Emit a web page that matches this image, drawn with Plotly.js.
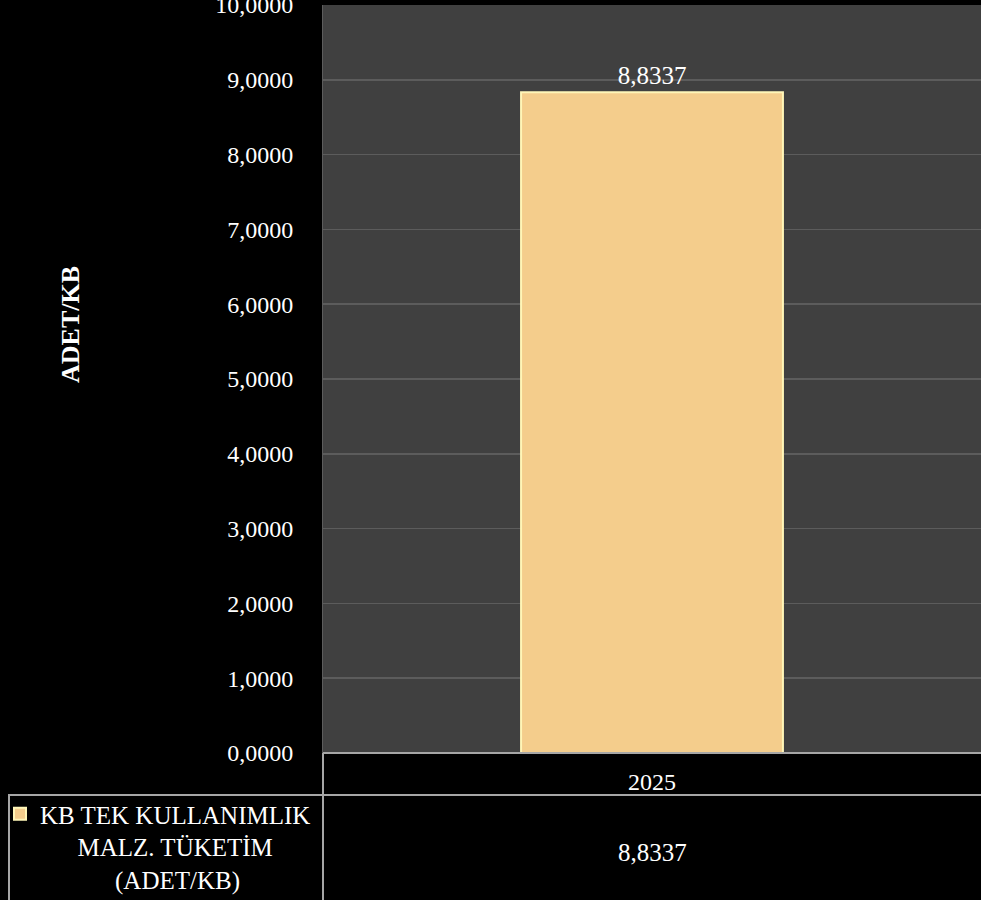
<!DOCTYPE html>
<html>
<head>
<meta charset="utf-8">
<script src="https://cdn.plot.ly/plotly-3.0.1.min.js"></script>
<style>html,body{margin:0;padding:0;background:#000;}#chart{width:981px;height:900px;}</style>
</head>
<body>
<div id="chart"></div>
<script>
const categories = ['2025'];
const values = [8.8337];
const seriesName = 'KB TEK KULLANIMLIK<br>\u00a0\u00a0\u00a0\u00a0\u00a0\u00a0MALZ. TÜKETİM<br>\u00a0\u00a0\u00a0\u00a0\u00a0\u00a0\u00a0\u00a0\u00a0\u00a0\u00a0\u00a0(ADET/KB)';
const yTitle = 'ADET/KB';
const tickVals = [0,1,2,3,4,5,6,7,8,9,10];

const FONT = 'Liberation Serif, DejaVu Serif, serif';
const fmt = v => v.toFixed(4).replace('.', ',');

const trace = {
  type: 'bar',
  x: categories,
  y: values,
  name: seriesName,
  width: 0.398,
  marker: {color: '#f4cd8c', line: {color: '#fff6b8', width: 2}},
  text: values.map(fmt),
  textposition: 'outside',
  cliponaxis: false,
  textfont: {family: FONT, size: 25, color: '#ffffff'},
  hoverinfo: 'none'
};

const lineCol = '#a6a6a6';
const shapes = [
  {type:'line', xref:'paper', yref:'paper', x0:0, x1:1, y0:0, y1:0, line:{color:lineCol, width:2}},
  {type:'line', xref:'paper', yref:'paper', x0:(8-323)/658, x1:1, y0:(753-795)/748, y1:(753-795)/748, line:{color:lineCol, width:2}},
  {type:'line', xref:'paper', yref:'paper', x0:0, x1:0, y0:0, y1:(753-900)/748, line:{color:lineCol, width:2}},
  {type:'line', xref:'paper', yref:'paper', x0:(9-323)/658, x1:(9-323)/658, y0:(753-795)/748, y1:(753-900)/748, line:{color:lineCol, width:2}}
];

const annotations = [
  {text: yTitle, textangle: -90, xref:'paper', yref:'paper', x:(70-323)/658, y:(753-325)/748,
   showarrow:false, font:{family:FONT, size:26, color:'#ffffff', weight:'bold'}, xanchor:'center', yanchor:'middle'},
  {text: fmt(values[0]), xref:'x', yref:'paper', x: 0, y:(753-852)/748,
   showarrow:false, font:{family:FONT, size:25, color:'#ffffff'}, xanchor:'center', yanchor:'middle'}
];

const layout = {
  width: 981, height: 900,
  paper_bgcolor: '#000000',
  plot_bgcolor: '#404040',
  margin: {l:323, r:0, t:5, b:147, pad:0, autoexpand:false},
  separators: ',.',
  font: {family: FONT, color: '#ffffff'},
  showlegend: true,
  legend: {x:(0-323)/658, y:(753-791)/748, xanchor:'left', yanchor:'top', valign:'top',
           bgcolor:'rgba(0,0,0,0)', font:{family:FONT, size:25, color:'#ffffff'},
           itemwidth:30, tracegroupgap:0},
  xaxis: {type:'category', range:[-0.5,0.5], showgrid:false, showline:false, zeroline:false, ticks:'',
          tickfont:{family:FONT, size:24, color:'#ffffff'}, ticklabelstandoff:12, fixedrange:true},
  yaxis: {range:[0,10], tickvals: tickVals, tickformat: '.4f', showgrid:true, gridcolor:'#5c5c5c', gridwidth:1.5,
          zeroline:false, showline:true, linecolor:'#5c5c5c', linewidth:1, mirror:false,
          ticklabeloverflow:'allow',
          tickfont:{family:FONT, size:24, color:'#ffffff'}, ticklabelstandoff:24, fixedrange:true},
  shapes: shapes,
  annotations: annotations
};

Plotly.newPlot('chart', [trace], layout, {displayModeBar:false, staticPlot:true});
</script>
</body>
</html>
